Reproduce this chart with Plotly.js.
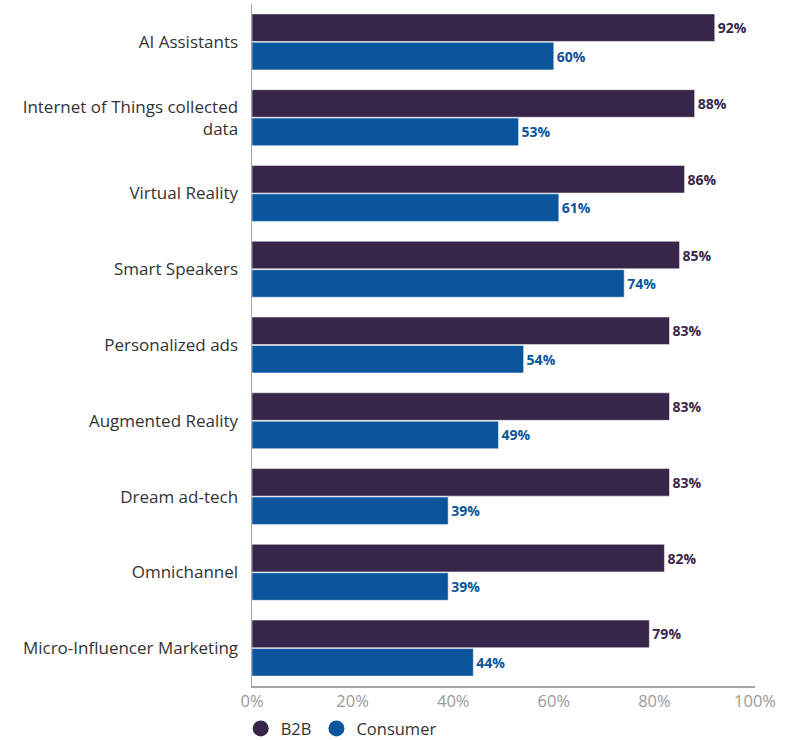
<!DOCTYPE html>
<html>
<head>
<meta charset="utf-8">
<script src="https://cdn.plot.ly/plotly-3.0.1.min.js"></script>
<style>body{margin:0;background:#fff;}#chart{width:797px;height:740px;}</style>
</head>
<body>
<div id="chart"></div>
<script>
const categories = ["AI Assistants", "Internet of Things collected<br>data", "Virtual Reality", "Smart Speakers", "Personalized ads", "Augmented Reality", "Dream ad-tech", "Omnichannel", "Micro-Influencer Marketing"];
const b2b = [92, 88, 86, 85, 83, 83, 83, 82, 79];
const consumer = [60, 53, 61, 74, 54, 49, 39, 39, 44];
const seriesNames = ["B2B", "Consumer"];
const colors = ["#38264a", "#0b559c"];
const tickVals = [0, 20, 40, 60, 80, 100];
const tickText = ["0%", "20%", "40%", "60%", "80%", "100%"];

const FONT = "'Open Sans', Lato, sans-serif";

function barTrace(vals, name, color) {
  return {
    type: "bar", orientation: "h", name: name,
    y: categories, x: vals,
    marker: {color: color, line: {color: "#ffffff", width: 0.5}},
    text: vals.map(v => v + "%"),
    textposition: "outside",
    textfont: {family: FONT, size: 14, color: color, weight: 700},
    cliponaxis: false,
    showlegend: false,
    hoverinfo: "x+y"
  };
}
function legendTrace(name, color) {
  return {
    type: "scatter", mode: "markers", name: name,
    x: [null], y: [null],
    marker: {symbol: "circle", size: 17, color: color},
    showlegend: true, hoverinfo: "skip"
  };
}

const data = [
  barTrace(b2b, seriesNames[0], colors[0]),
  barTrace(consumer, seriesNames[1], colors[1]),
  legendTrace(seriesNames[0], colors[0]),
  legendTrace(seriesNames[1], colors[1])
];

const layout = {
  width: 797, height: 740,
  margin: {l: 252, r: 42, t: 4, b: 54, autoexpand: false},
  paper_bgcolor: "#ffffff", plot_bgcolor: "#ffffff",
  font: {family: FONT, color: "#333333"},
  barmode: "group", bargap: 0.25, bargroupgap: 0.03,
  showlegend: true,
  legend: {orientation: "h", x: -0.0225, xanchor: "left",
           y: -0.037, yanchor: "top", bgcolor: "rgba(0,0,0,0)",
           font: {family: FONT, size: 16.5, color: "#333333"}, itemwidth: 30, tracegroupgap: 0},
  xaxis: {range: [0, 100], tickvals: tickVals, ticktext: tickText,
          showgrid: false, zeroline: false, showline: true, linecolor: "#a6a6a6", linewidth: 1.5,
          ticks: "", tickfont: {family: FONT, size: 16.5, color: "#999999"}, fixedrange: true},
  yaxis: {type: "category", range: [8.5, -0.5], showgrid: false, zeroline: false,
          showline: true, linecolor: "#a6a6a6", linewidth: 1.5, ticks: "",
          ticklabelstandoff: 9,
          tickfont: {family: FONT, size: 17, color: "#333333"}, fixedrange: true}
};

Plotly.newPlot("chart", data, layout, {displayModeBar: false, staticPlot: true});
</script>
</body>
</html>
